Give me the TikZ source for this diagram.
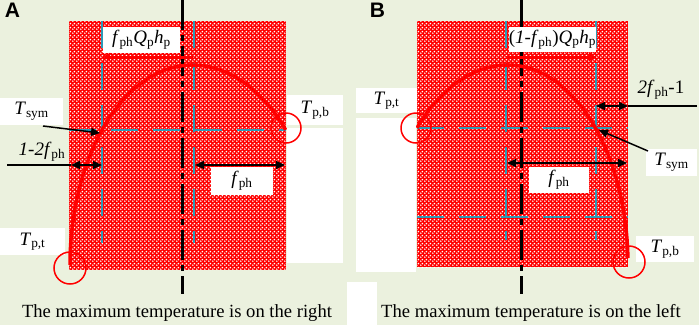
\documentclass[tikz,border=0pt]{standalone}
\usepackage{fontspec}
\setmainfont{Liberation Serif}
\newfontfamily\labfont{Liberation Sans}
\usetikzlibrary{arrows.meta,patterns.meta}
\tikzdeclarepattern{name=wdots,type=uncolored,bounding box={(0pt,0pt) and (4pt,4pt)},tile size={(4pt,4pt)},code={\fill (1pt,1pt) circle[radius=1.05pt]; \fill (3pt,3pt) circle[radius=1.05pt];}}
\definecolor{bg}{HTML}{EBF1DE}
\definecolor{cy}{HTML}{2C9AB7}
\newcommand\sbs[1]{\textsubscript{#1}}
\newcommand\lblsize{\fontsize{19}{22}\selectfont}
\begin{document}
\begin{tikzpicture}[x=1pt,y=-1pt,
 wbox/.style={fill=white,inner sep=0pt,font=\lblsize},
 plain/.style={inner sep=0pt,font=\lblsize},
 cyl/.style={cy,line width=2pt,dash pattern=on 27pt off 15pt},
 axisline/.style={black,line width=3pt,dash pattern=on 30pt off 5pt on 6pt off 5pt},
 curve/.style={red,line width=3.5pt},
 ring/.style={red,line width=1.5pt},
 dim/.style={black,line width=1.5pt,{Triangle[length=9pt,width=8pt]}-{Triangle[length=9pt,width=8pt]}},
 ptr/.style={black,line width=1.5pt,-{Triangle[length=9pt,width=8pt]}},
 flux/.style={red,line width=3pt,-{Triangle[length=7pt,width=8pt]}},
 lead/.style={black,line width=1.5pt},
 tag/.style={font=\labfont\bfseries\fontsize{21}{24}\selectfont,inner sep=0pt},
 captext/.style={inner sep=0pt,font=\fontsize{18.6}{21}\selectfont}
]
\useasboundingbox (0,0) rectangle (699,325);
\fill[bg] (0,0) rectangle (699,325);

% ---------- Panel A ----------
\fill[red] (69,21) rectangle (286,270);
\fill[pattern=wdots,pattern color=white] (69,21) rectangle (286,270);
\draw[cyl] (102,21) -- (102,243);
\draw[cyl] (194,21) -- (194,243);
\draw[cyl] (69,130) -- (286,130);
\draw[axisline] (182,0) -- (182,294);
\draw[curve] plot[domain=180:90,samples=40] ({192+122*cos(\x)},{265-200*sin(\x)})
  -- plot[domain=90:42.5,samples=30] ({192+127*cos(\x)},{265-200*sin(\x)});

\node[wbox,minimum width=77pt,minimum height=26pt] (lblA) at (141.5,40) {\textit{f}\sbs{ph}\textit{Q}\sbs{p}\textit{h}\sbs{p}};
\node[wbox,minimum width=63pt,minimum height=27pt] (tsymA) at (31.5,111.5) {\textit{T}\sbs{sym}};
\node[wbox,minimum width=56pt,minimum height=30pt] (tpbA) at (315,110) {\textit{T}\sbs{p,b}};
\node[wbox,minimum width=56pt,minimum height=135pt] (blockA) at (315,195.5) {};
\node[wbox,minimum width=62pt,minimum height=28pt] (fphA) at (242,181) {\textit{f}\sbs{ph}};
\node[wbox,minimum width=65pt,minimum height=27pt] (tptA) at (32.5,241.5) {\textit{T}\sbs{p,t}};
\node[plain] (ltwoA) at (42,152) {\textit{1-2f}\sbs{ph}};
\node[tag] (tagA) at (12.5,10.5) {A};
\node[captext] (captA) at (177,313) {The maximum temperature is on the right};

\coordinate (fluxA1) at (193,57);
\coordinate (fluxA2) at (103,57);
\draw[flux] (fluxA1) -- (fluxA2);
\coordinate (symA) at (100,133);
\coordinate (tsymAt) at (43,126);
\draw[ptr] (tsymAt) -- (symA);
\coordinate (lA1) at (7,165);
\coordinate (lA2) at (71,165);
\coordinate (lA3) at (102,165);
\draw[lead] (lA1) -- (lA2);
\draw[dim] (lA2) -- (lA3);
\coordinate (fA1) at (195,165);
\coordinate (fA2) at (285,165);
\draw[dim] (fA1) -- (fA2);
\draw[ring] (286,128) circle[radius=15];
\draw[ring] (70,268) circle[radius=16];

% ---------- Panel B ----------
\fill[red] (417,21) rectangle (628,267);
\fill[pattern=wdots,pattern color=white] (417,21) rectangle (628,267);
\draw[cyl] (506,21) -- (506,240);
\draw[cyl] (596,21) -- (596,240);
\draw[cyl] (417,128) -- (628,128);
\draw[cyl] (417,217) -- (628,217);
\draw[axisline] (521,0) -- (521,294);
\draw[curve] plot[domain=136.7:90,samples=40] ({508+125*cos(\x)},{265-200*sin(\x)})
  -- plot[domain=90:2,samples=50] ({508+120*cos(\x)},{265-200*sin(\x)});

\node[wbox,minimum width=83pt,minimum height=25pt] (lblB) at (552.5,39.5) {(\textit{1-f}\sbs{ph})\textit{Q}\sbs{p}\textit{h}\sbs{p}};
\node[wbox,minimum width=61pt,minimum height=25pt] (tptB) at (386.5,100.5) {\textit{T}\sbs{p,t}};
\node[wbox,minimum width=60pt,minimum height=154pt] (blockB) at (386,195) {};
\node[wbox,minimum width=30pt,minimum height=43pt] (blockB2) at (362,303.5) {};
\node[wbox,minimum width=51pt,minimum height=27pt] (tsymB) at (671.5,162.5) {\textit{T}\sbs{sym}};
\node[wbox,minimum width=60pt,minimum height=26pt] (fphB) at (559,180) {\textit{f}\sbs{ph}};
\node[wbox,minimum width=58pt,minimum height=26pt] (tpbB) at (665,249) {\textit{T}\sbs{p,b}};
\node[plain] (ltwoB) at (661,90) {\textit{2f}\sbs{ph}-1};
\node[tag] (tagB) at (377.5,10.5) {B};
\node[captext] (captB) at (531,313) {The maximum temperature is on the left};

\coordinate (fluxB1) at (506,57);
\coordinate (fluxB2) at (596,57);
\draw[flux] (fluxB1) -- (fluxB2);
\coordinate (symB) at (599,130);
\coordinate (tsymBt) at (648,151);
\draw[ptr] (tsymBt) -- (symB);
\coordinate (lB1) at (697,106);
\coordinate (lB2) at (628,106);
\coordinate (lB3) at (596,106);
\draw[lead] (lB1) -- (lB2);
\draw[dim] (lB3) -- (lB2);
\coordinate (fB1) at (507,163);
\coordinate (fB2) at (627,163);
\draw[dim] (fB1) -- (fB2);
\draw[ring] (416,128) circle[radius=15];
\draw[ring] (629,262) circle[radius=16];
\end{tikzpicture}
\end{document}
